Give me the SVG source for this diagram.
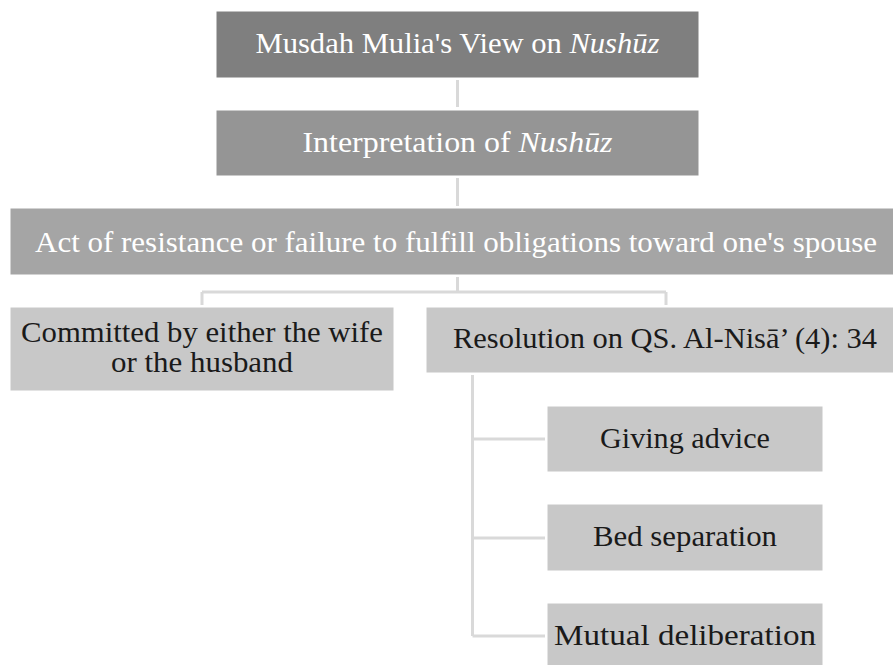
<svg xmlns="http://www.w3.org/2000/svg" width="893" height="665" viewBox="0 0 893 665">
<style>
.box{stroke:#ffffff;stroke-width:1}
text{font-family:'Liberation Serif','DejaVu Serif','Times New Roman',serif;font-size:30px;text-anchor:middle}
.w{fill:#ffffff}
.k{fill:#1a1a1a}
.c{fill:none;stroke:#d9d9d9;stroke-width:3}
</style>
<rect width="893" height="665" fill="#ffffff"/>
<g id="connectors">
<path class="c" d="M457.5 80 V107"/>
<path class="c" d="M457.5 178 V206"/>
<path class="c" d="M457.5 277 V292 M202 292 H666 M202 292 V305 M666 292 V305"/>
<path class="c" d="M472.5 375 V636 M472.5 439 H545 M472.5 538 H545 M472.5 636 H545"/>
</g>
<g id="n1">
<rect class="box" x="216" y="11" width="483" height="67" fill="#7f7f7f"/>
<text class="w" x="457.5" y="53" textLength="404" lengthAdjust="spacingAndGlyphs">Musdah Mulia's View on <tspan font-style="italic">Nushūz</tspan></text>
</g>
<g id="n2">
<rect class="box" x="216" y="110" width="483" height="66" fill="#959595"/>
<text class="w" x="457.5" y="152" textLength="310" lengthAdjust="spacingAndGlyphs">Interpretation of <tspan font-style="italic">Nushūz</tspan></text>
</g>
<g id="n3">
<rect class="box" x="10" y="208" width="900" height="67" fill="#a5a5a5"/>
<text class="w" x="456" y="252" textLength="842" lengthAdjust="spacingAndGlyphs">Act of resistance or failure to fulfill obligations toward one's spouse</text>
</g>
<g id="n4">
<rect class="box" x="10" y="307" width="384" height="84" fill="#c8c8c8"/>
<text class="k" x="202" y="342" textLength="362" lengthAdjust="spacingAndGlyphs">Committed by either the wife</text>
<text class="k" x="202" y="372" textLength="182" lengthAdjust="spacingAndGlyphs">or the husband</text>
</g>
<g id="n5">
<rect class="box" x="426" y="307" width="480" height="66" fill="#c8c8c8"/>
<text class="k" x="665" y="348" textLength="424" lengthAdjust="spacingAndGlyphs">Resolution on QS. Al-Nisā’ (4): 34</text>
</g>
<g id="n6">
<rect class="box" x="547" y="406" width="276" height="66" fill="#c8c8c8"/>
<text class="k" x="685" y="448" textLength="170" lengthAdjust="spacingAndGlyphs">Giving advice</text>
</g>
<g id="n7">
<rect class="box" x="547" y="504" width="276" height="67" fill="#c8c8c8"/>
<text class="k" x="685" y="546" textLength="184" lengthAdjust="spacingAndGlyphs">Bed separation</text>
</g>
<g id="n8">
<rect class="box" x="547" y="603" width="276" height="66" fill="#c8c8c8"/>
<text class="k" x="685" y="645" textLength="262" lengthAdjust="spacingAndGlyphs">Mutual deliberation</text>
</g>
</svg>
